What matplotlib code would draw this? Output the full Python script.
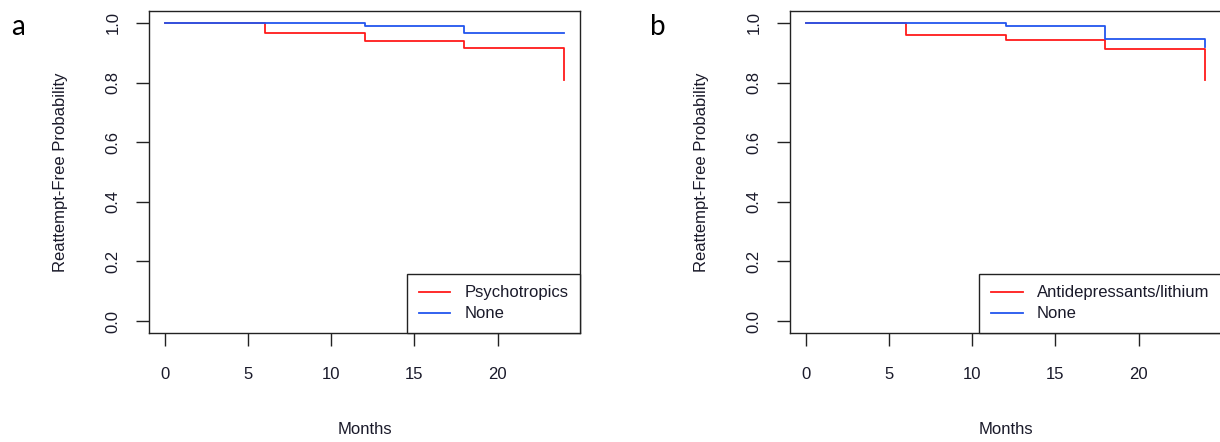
import matplotlib
matplotlib.use("Agg")
import matplotlib.pyplot as plt

plt.rcParams['font.family'] = ['Liberation Sans', 'DejaVu Sans']

months = [0, 6, 12, 18, 24]
a_psychotropics = [1.0, 0.966, 0.938, 0.915, 0.81]
a_none = [1.0, 1.0, 0.991, 0.966, 0.966]
b_antidep = [1.0, 0.958, 0.943, 0.911, 0.81]
b_none = [1.0, 1.0, 0.991, 0.947, 0.918]

xticks = [0, 5, 10, 15, 20]
yticks = [0.0, 0.2, 0.4, 0.6, 0.8, 1.0]
ytick_labels = ["0.0", "0.2", "0.4", "0.6", "0.8", "1.0"]

RED = "#ff1a1a"
BLUE = "#2255ee"
W, H = 1220, 442

fig = plt.figure(figsize=(W / 100, H / 100), dpi=100)

panels = [
    ("a", 149, a_psychotropics, "Psychotropics", a_none, 18),
    ("b", 790, b_antidep, "Antidepressants/lithium", b_none, 658),
]

for letter, left_px, red_vals, red_label, blue_vals, letter_x in panels:
    ax = fig.add_axes([left_px / W, (H - 333) / H, 431 / W, 322 / H])
    ax.step(months, red_vals, where='post', color=RED, lw=1.3, label=red_label)
    ax.step(months, blue_vals, where='post', color=BLUE, lw=1.3, label="None")
    ax.set_xlim(-0.96, 24.96)
    ax.set_ylim(-0.04, 1.04)
    ax.set_xticks(xticks)
    ax.set_yticks(yticks)
    ax.set_yticklabels(ytick_labels, rotation=90, va='center')
    for s in ax.spines.values():
        s.set_color('#222222')
        s.set_linewidth(1.0)
    ax.tick_params(axis='both', direction='out', length=9.4, width=1.0,
                   color='#222222', labelsize=12, labelcolor='#1a1a2a')
    ax.tick_params(axis='x', pad=15)
    ax.tick_params(axis='y', pad=11)
    ax.set_xlabel("Months", fontsize=12, va='center', color='#1a1a2a')
    ax.xaxis.set_label_coords(0.5, (333 - 430) / 322)
    ax.set_ylabel("Reattempt-Free Probability", fontsize=12, va='center', color='#1a1a2a')
    ax.yaxis.set_label_coords(-89 / 431, 0.5)
    leg = ax.legend(loc='lower right', borderaxespad=0, fancybox=False,
                    edgecolor='#222222', framealpha=1, fontsize=12,
                    handlelength=1.9, handletextpad=0.85, borderpad=0.7,
                    labelspacing=0.35)
    leg.get_frame().set_linewidth(1.0)
    for t in leg.get_texts():
        t.set_color('#1a1a2a')
    fig.text(letter_x / W, 1 - 35 / H, letter, fontsize=20, family=['Lato', 'DejaVu Sans'],
             ha='center', va='baseline')

fig.savefig("out.png", dpi=100)
